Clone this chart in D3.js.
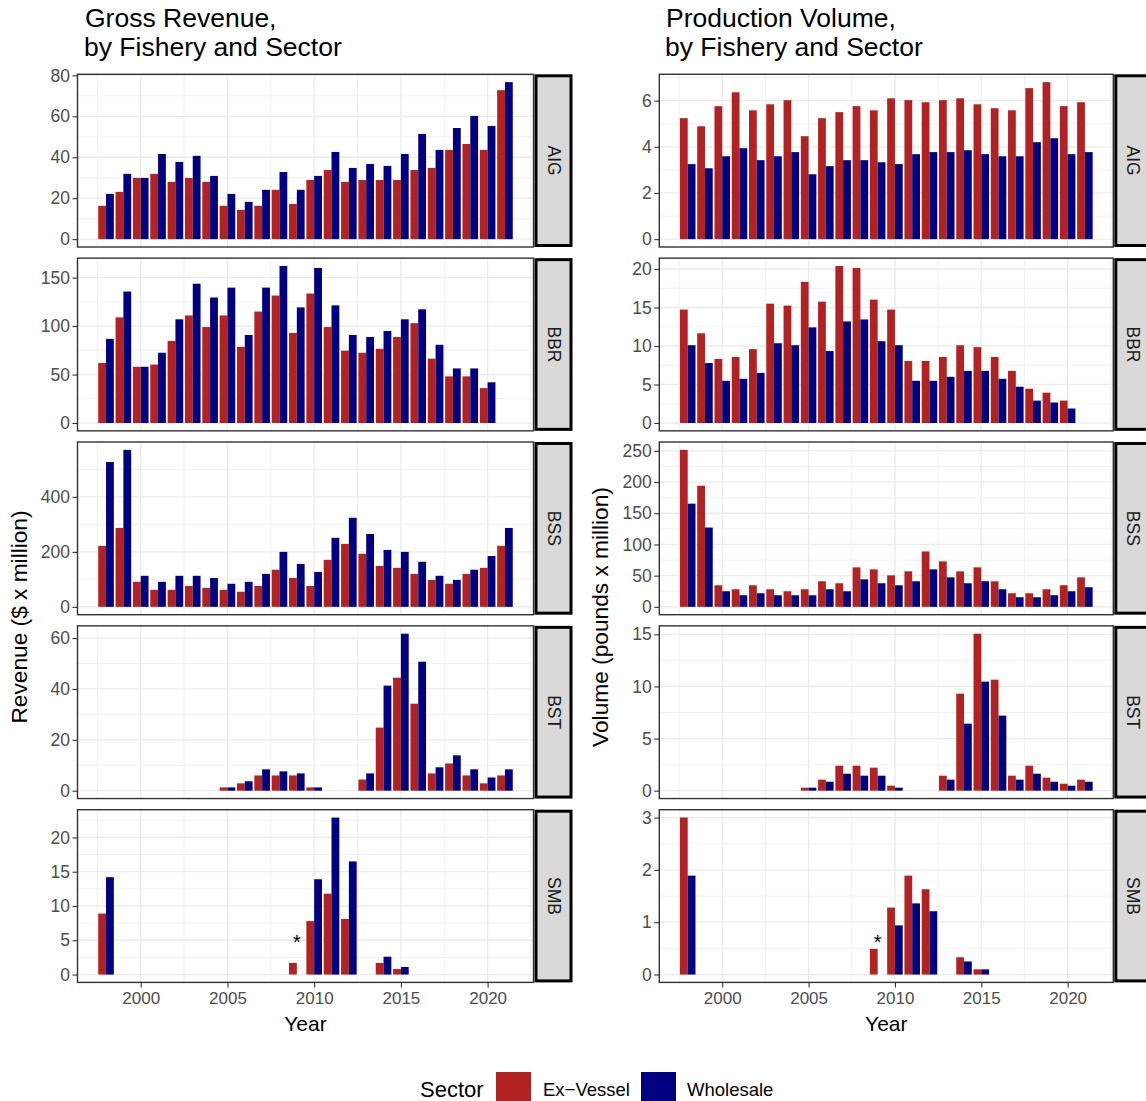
<!DOCTYPE html>
<html><head><meta charset="utf-8">
<script src="https://cdn.jsdelivr.net/npm/d3@7"></script>
<style>
body{margin:0;background:#fff}
text{font-family:"Liberation Sans",Arial,sans-serif}
</style>
</head><body>
<svg id="chart" width="1146" height="1101"></svg>
<script>
// ---------- data ----------
const years = [1998,1999,2000,2001,2002,2003,2004,2005,2006,2007,2008,2009,2010,2011,2012,2013,2014,2015,2016,2017,2018,2019,2020,2021];
const fisheries = ["AIG","BBR","BSS","BST","SMB"];
const sectors = ["Ex-Vessel","Wholesale"];
const sectorColors = ["#B22222","#000080"];
const xTickValues = [2000,2005,2010,2015,2020];

// Gross revenue ($ x million)
const revAIG_ex = [16.3,23.1,29.9,31.9,28.0,29.9,28.0,16.3,14.3,16.3,24.1,17.2,28.9,33.8,28.0,28.9,28.9,28.9,33.8,34.8,43.6,46.5,43.6,72.8];
const revAIG_wh = [22.1,31.9,29.9,41.6,37.7,40.7,30.9,22.1,18.2,24.1,32.8,24.1,30.9,42.6,34.8,36.7,35.8,41.6,51.4,43.6,54.3,60.2,55.3,76.7];
const revBBR_ex = [62,109,58,60.3,84.7,111,99,111,78.6,115,131.5,92.9,133.6,99,74.6,72.5,76.6,88.8,103,66.4,48.1,48.1,36,null];
const revBBR_wh = [86.8,135.6,58,72.5,107,143.7,129.5,139.7,90.8,139.7,162,119.3,160,121.4,90.8,88.8,94.9,107,117.3,80.7,56.3,56.3,42,null];
const revBSS_ex = [222,287,91,62,62,76,69,62,55,76,135,105,76,171,229,193,149,142,120,98,84,120,142,222];
const revBSS_wh = [527,571,113,91,113,113,105,84,91,120,200,156,127,251,324,265,207,200,164,113,98,135,185,287];
const revBST_ex = [null,null,null,null,null,null,null,1.3,2.9,6.0,6.0,6.0,1.3,null,null,4.4,24.8,44.4,34.2,6.8,10.7,6.0,2.9,6.0];
const revBST_wh = [null,null,null,null,null,null,null,1.3,3.7,8.4,7.6,6.8,1.3,null,null,6.8,41.3,61.7,50.7,9.2,13.9,8.4,5.2,8.4];
const revSMB_ex = [8.9,null,null,null,null,null,null,null,null,null,null,1.7,7.8,11.8,8.1,null,1.7,0.8,null,null,null,null,null,null];
const revSMB_wh = [14.2,null,null,null,null,null,null,null,null,null,null,null,13.9,22.9,16.5,null,2.6,1.1,null,null,null,null,null,null];

// Production volume (pounds x million)
const volAIG_ex = [5.24,4.89,5.76,6.36,5.58,5.84,6.02,4.46,5.24,5.50,5.76,5.58,6.10,6.02,5.93,6.02,6.10,5.84,5.67,5.58,6.54,6.80,5.76,5.93];
const volAIG_wh = [3.25,3.07,3.59,3.94,3.42,3.59,3.77,2.81,3.16,3.42,3.42,3.33,3.25,3.68,3.77,3.77,3.85,3.68,3.59,3.59,4.20,4.37,3.68,3.77];
const volBBR_ex = [14.73,11.65,8.31,8.57,9.59,15.5,15.25,18.33,15.76,20.39,20.13,16.02,14.73,8.05,8.05,8.57,10.1,9.85,8.57,6.77,4.45,3.94,2.91,null];
const volBBR_wh = [10.1,7.79,5.48,5.74,6.51,10.36,10.1,12.42,9.34,13.19,13.45,10.62,10.1,5.48,5.48,6.0,6.77,6.77,5.74,4.71,2.91,2.66,1.88,null];
const volBSS_ex = [251.6,194.1,34.6,28.2,34.6,28.2,25,28.2,41,37.8,63.3,60.1,50.5,56.9,88.8,72.9,56.9,63.3,41,21.8,21.8,28.2,34.6,47.3];
const volBSS_wh = [165.4,127.1,25,18.6,21.8,18.6,18.6,18.6,28.2,25,44.1,37.8,34.6,41,60.1,47.3,37.8,41,28.2,15.4,15.4,18.6,25,31.4];
const volBST_ex = [null,null,null,null,null,null,null,0.29,1.06,2.4,2.4,2.21,0.48,null,null,1.44,9.31,15.06,10.65,1.44,2.4,1.25,0.67,1.06];
const volBST_wh = [null,null,null,null,null,null,null,0.29,0.86,1.63,1.44,1.44,0.29,null,null,1.06,6.43,10.46,7.2,1.06,1.63,0.86,0.48,0.86];
const volSMB_ex = [3.0,null,null,null,null,null,null,null,null,null,null,0.49,1.28,1.89,1.63,null,0.33,0.1,null,null,null,null,null,null];
const volSMB_wh = [1.89,null,null,null,null,null,null,null,null,null,null,null,0.94,1.36,1.21,null,0.25,0.1,null,null,null,null,null,null];

// y tick labels per panel
const revTicks = [[0,20,40,60,80],[0,50,100,150],[0,200,400],[0,20,40,60],[0,5,10,15,20]];
const volTicks = [[0,2,4,6],[0,5,10,15,20],[0,50,100,150,200,250],[0,5,10,15],[0,1,2,3]];

// asterisk annotation (SMB 2009)
const starYear = 2009;
const starRev = 5.3;
const starVol = 0.7;

// ---------- layout ----------
const svg = d3.select("#chart");
svg.append("rect").attr("width",1146).attr("height",1101).attr("fill","#fff");

const rowTop0 = 74.3, rowPitch = 183.85, rowH = 172.7;
const FONT = '"Liberation Sans",Arial,sans-serif';

function drawColumn(cfg){
  const {x0,x1,exArr,whArr,ticks,title1,title2,titleX,yTitle,yTitleX,star} = cfg;
  const x = d3.scaleLinear().domain([1996.355,2022.645]).range([x0,x1]);
  const xMinor = [1997.5,2002.5,2007.5,2012.5,2017.5,2022.5];

  fisheries.forEach((f,i)=>{
    const top = rowTop0 + i*rowPitch, bot = top + rowH;
    const ex = exArr[i], wh = whArr[i];
    const vmax = d3.max(ex.concat(wh));
    const y = d3.scaleLinear().domain([-0.05*vmax, 1.05*vmax]).range([bot, top]);
    const g = svg.append("g");
    const tk = ticks[i];
    const step = tk[1]-tk[0];
    const minor = [tk[0]-step/2].concat(tk.map(t=>t+step/2)).filter(v=>v>y.domain()[0] && v<y.domain()[1]);

    // grid
    g.selectAll(".ymin").data(minor).join("line")
      .attr("x1",x0).attr("x2",x1).attr("y1",d=>y(d)).attr("y2",d=>y(d))
      .attr("stroke","#EBEBEB").attr("stroke-width",0.7);
    g.selectAll(".xmin").data(xMinor).join("line")
      .attr("y1",top).attr("y2",bot).attr("x1",d=>x(d)).attr("x2",d=>x(d))
      .attr("stroke","#EBEBEB").attr("stroke-width",0.7);
    g.selectAll(".ymaj").data(tk).join("line")
      .attr("x1",x0).attr("x2",x1).attr("y1",d=>y(d)).attr("y2",d=>y(d))
      .attr("stroke","#EBEBEB").attr("stroke-width",1.3);
    g.selectAll(".xmaj").data(xTickValues).join("line")
      .attr("y1",top).attr("y2",bot).attr("x1",d=>x(d)).attr("x2",d=>x(d))
      .attr("stroke","#EBEBEB").attr("stroke-width",1.3);

    // bars
    const rows = [];
    years.forEach((yr,k)=>{
      if(ex[k]!=null) rows.push({yr, v:ex[k], s:0});
      if(wh[k]!=null) rows.push({yr, v:wh[k], s:1});
    });
    g.selectAll(".bar").data(rows).join("rect")
      .attr("x",d=> d.s===0 ? x(d.yr-0.45) : x(d.yr))
      .attr("width",d=> x(d.yr+0.45)-x(d.yr))
      .attr("y",d=>y(d.v)).attr("height",d=>y(0)-y(d.v))
      .attr("fill",d=>sectorColors[d.s]);

    // star
    if(f==="SMB"){
      g.append("text").attr("x",x(starYear)).attr("y",y(star)+11)
        .attr("text-anchor","middle").attr("font-size",20).attr("fill","#000").text("*");
    }

    // border
    g.append("rect").attr("x",x0).attr("y",top).attr("width",x1-x0).attr("height",rowH)
      .attr("fill","none").attr("stroke","#333").attr("stroke-width",1.4);

    // y axis
    const ax = g.append("g").attr("transform",`translate(${x0},0)`)
      .call(d3.axisLeft(y).tickValues(tk).tickSize(5).tickPadding(2.5).tickFormat(d3.format("d")));
    ax.select(".domain").remove();
    ax.selectAll("line").attr("stroke","#333").attr("stroke-width",1.1);
    ax.selectAll("text").attr("font-size",17.5).attr("fill","#4D4D4D").attr("font-family",FONT);

    // strip
    g.append("rect").attr("x",x1+2.5).attr("y",top+1.5).attr("width",35).attr("height",rowH-3)
      .attr("fill","#D9D9D9").attr("stroke","#000").attr("stroke-width",3);
    g.append("text").attr("transform",`translate(${x1+20},${(top+bot)/2}) rotate(90)`)
      .attr("text-anchor","middle").attr("dominant-baseline","central")
      .attr("font-size",17.5).attr("fill","#1A1A1A").text(f);

    if(i===fisheries.length-1){
      const bx = g.append("g").attr("transform",`translate(0,${bot})`)
        .call(d3.axisBottom(x).tickValues(xTickValues).tickSize(5).tickPadding(5).tickFormat(d3.format("d")));
      bx.select(".domain").remove();
      bx.selectAll("line").attr("stroke","#333").attr("stroke-width",1.1);
      bx.selectAll("text").attr("font-size",17).attr("fill","#4D4D4D").attr("font-family",FONT);
      svg.append("text").attr("x",(x0+x1)/2).attr("y",1031).attr("text-anchor","middle")
        .attr("font-size",21).attr("fill","#000").text("Year");
    }
  });

  svg.append("text").attr("x",titleX).attr("y",27).attr("font-size",26.5).attr("fill","#000").text(title1);
  svg.append("text").attr("x",titleX-1).attr("y",56).attr("font-size",26.5).attr("fill","#000").text(title2);
  svg.append("text").attr("transform",`translate(${yTitleX},617) rotate(-90)`)
    .attr("text-anchor","middle").attr("font-size",22.7).attr("fill","#000").text(yTitle);
}

drawColumn({x0:77.5,x1:533.5,
  exArr:[revAIG_ex,revBBR_ex,revBSS_ex,revBST_ex,revSMB_ex],
  whArr:[revAIG_wh,revBBR_wh,revBSS_wh,revBST_wh,revSMB_wh],
  ticks:revTicks,title1:"Gross Revenue,",title2:"by Fishery and Sector",titleX:85,
  yTitle:"Revenue ($ x million)",yTitleX:27,star:starRev});

drawColumn({x0:659.3,x1:1113.3,
  exArr:[volAIG_ex,volBBR_ex,volBSS_ex,volBST_ex,volSMB_ex],
  whArr:[volAIG_wh,volBBR_wh,volBSS_wh,volBST_wh,volSMB_wh],
  ticks:volTicks,title1:"Production Volume,",title2:"by Fishery and Sector",titleX:666,
  yTitle:"Volume (pounds x million)",yTitleX:608,star:starVol});

// ---------- legend ----------
const lg = svg.append("g");
lg.append("text").attr("x",420).attr("y",1097).attr("font-size",22).attr("fill","#000").text("Sector");
const keyX = [496,641], labX = [543,687];
lg.selectAll(".key").data(sectors).join("rect")
  .attr("x",(d,i)=>keyX[i]).attr("y",1072).attr("width",35).attr("height",35)
  .attr("fill",(d,i)=>sectorColors[i]);
lg.selectAll(".lab").data(sectors).join("text")
  .attr("x",(d,i)=>labX[i]).attr("y",1096).attr("font-size",18.5).attr("fill","#000")
  .text(d=>d==="Ex-Vessel" ? "Ex\u2212Vessel" : d);
</script>
</body></html>
